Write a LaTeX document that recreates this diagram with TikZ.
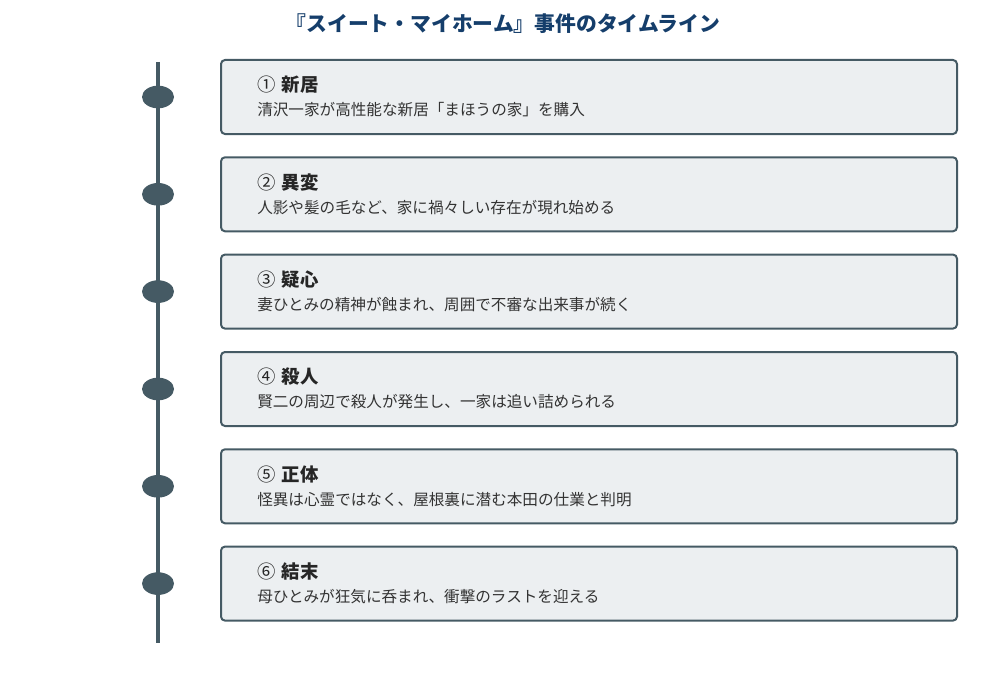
\documentclass[tikz,border=0pt]{standalone}
\usepackage{fontspec}
\setmainfont{Noto Sans CJK JP}
\usetikzlibrary{shapes.geometric}
\definecolor{slate}{HTML}{455A64}
\definecolor{boxfill}{HTML}{ECEFF1}
\definecolor{titleblue}{HTML}{153E6B}
\definecolor{bodytext}{HTML}{333333}
\newcommand{\evnum}[1]{{\mdseries #1}\hspace{4.5pt}}
\tikzset{
  event/.style={draw=slate, line width=1.5pt, fill=boxfill, rounded corners=3pt,
    minimum width=552pt, minimum height=55.5pt, inner sep=0pt},
  dot/.style={ellipse, fill=slate, minimum width=24pt, minimum height=17pt, inner sep=0pt},
  head/.style={anchor=west, inner sep=0pt, text=black!85, font=\fontsize{13.8}{16}\selectfont\bfseries},
  desc/.style={anchor=west, inner sep=0pt, text=bodytext, font=\fontsize{11.7}{14}\selectfont},
}
\begin{document}
\begin{tikzpicture}[x=0.75pt, y=-0.75pt]
                \useasboundingbox (0,0) rectangle (1000,692);
                \node[text=titleblue, font=\fontsize{15.6}{18}\selectfont\bfseries] (title) at (503,24) {『スイート・マイホーム』事件のタイムライン};

                \coordinate (top) at (158,62);
                \coordinate (bot) at (158,643);
                \draw[slate, line width=3pt] (top) -- (bot);

                \node[dot] (d1) at (158,97) {};
                \node[dot] (d2) at (158,194.3) {};
                \node[dot] (d3) at (158,291.6) {};
                \node[dot] (d4) at (158,389) {};
                \node[dot] (d5) at (158,486.3) {};
                \node[dot] (d6) at (158,583.6) {};

                \node[event] (e1) at (589,97) {};
                \node[event] (e2) at (589,194.3) {};
                \node[event] (e3) at (589,291.6) {};
                \node[event] (e4) at (589,389) {};
                \node[event] (e5) at (589,486.3) {};
                \node[event] (e6) at (589,583.6) {};

                \node[head] (h1) at (257,85) {\evnum{①}新居};
                \node[desc] (t1) at (257,110) {清沢一家が高性能な新居「まほうの家」を購入};
                \node[head] (h2) at (257,182.3) {\evnum{②}異変};
                \node[desc] (t2) at (257,207.3) {人影や髪の毛など、家に禍々しい存在が現れ始める};
                \node[head] (h3) at (257,279.6) {\evnum{③}疑心};
                \node[desc] (t3) at (257,304.6) {妻ひとみの精神が蝕まれ、周囲で不審な出来事が続く};
                \node[head] (h4) at (257,377) {\evnum{④}殺人};
                \node[desc] (t4) at (257,402) {賢二の周辺で殺人が発生し、一家は追い詰められる};
                \node[head] (h5) at (257,474.3) {\evnum{⑤}正体};
                \node[desc] (t5) at (257,499.3) {怪異は心霊ではなく、屋根裏に潜む本田の仕業と判明};
                \node[head] (h6) at (257,571.6) {\evnum{⑥}結末};
                \node[desc] (t6) at (257,596.6) {母ひとみが狂気に呑まれ、衝撃のラストを迎える};
            \end{tikzpicture}
\end{document}
